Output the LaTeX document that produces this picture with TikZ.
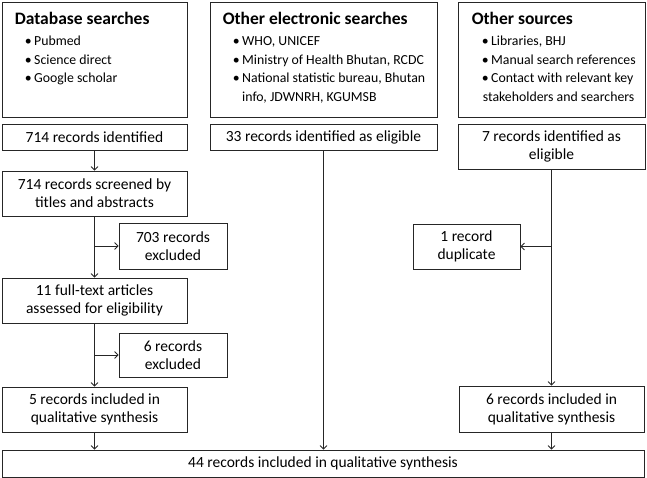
\documentclass[tikz,border=0pt]{standalone}
\usepackage{fontspec}
\setmainfont{Carlito}
\usetikzlibrary{positioning,arrows.meta,calc}
\newcommand{\bul}{\hspace*{10pt}\textbullet\hspace{2.5pt}}
\newcommand{\bulind}{\hspace*{10pt}\phantom{\textbullet}\hspace{2.5pt}}

\begin{document}
\begin{tikzpicture}[
  x=1pt, y=-1pt,
  font=\fontsize{15.5}{18}\selectfont,
  box/.style={draw=black!85, line width=0.8pt, inner sep=2pt, align=center},
  srcbox/.style={box, minimum height=115pt},
  srctext/.style={anchor=north west, align=left, inner sep=0pt,
    font=\fontsize{13.8}{18.5}\selectfont},
  arr/.style={-{Straight Barb[length=3.5pt,width=7pt]}, line width=0.8pt, black!85},
]
\useasboundingbox (0,0) rectangle (647,478);

% source boxes (top row)
\node[srcbox, minimum width=185pt] (db) at (94.5,59.5) {};
\node[srcbox, minimum width=227pt] (oe) at (323.5,59.5) {};
\node[srcbox, minimum width=187pt] (os) at (551.5,59.5) {};
\node[srctext] (dbtxt) at ([shift={(13pt,-10pt)}]db.north west)
  {{\bfseries\fontsize{17.5}{20}\selectfont Database searches}\\[3pt]
   \bul Pubmed\\ \bul Science direct\\ \bul Google scholar};
\node[srctext] (oetxt) at ([shift={(13pt,-10pt)}]oe.north west)
  {{\bfseries\fontsize{17.5}{20}\selectfont Other electronic searches}\\[3pt]
   \bul WHO, UNICEF\\ \bul Ministry of Health Bhutan, RCDC\\
   \bul National statistic bureau, Bhutan\\ \bulind info, JDWNRH, KGUMSB};
\node[srctext] (ostxt) at ([shift={(14pt,-10pt)}]os.north west)
  {{\bfseries\fontsize{17.5}{20}\selectfont Other sources}\\[3pt]
   \bul Libraries, BHJ\\ \bul Manual search references\\
   \bul Contact with relevant key\\ \hspace*{11pt}stakeholders and searchers};

% database branch
\node[box, minimum width=185pt, minimum height=26pt] (id714) at (94.5,137) {714 records identified};
\node[box, minimum width=185pt, minimum height=45pt] (scr) at (94.5,193.5)
  {714 records screened by\\ titles and abstracts};
\node[box, minimum width=108pt, minimum height=46pt] (ex703) at (173,246)
  {703 records\\ excluded};
\node[box, minimum width=185pt, minimum height=45pt] (full) at (94.5,300.5)
  {11 full-text articles\\ assessed for eligibility};
\node[box, minimum width=108pt, minimum height=44pt] (ex6) at (173,355)
  {6 records\\ excluded};
\node[box, minimum width=185pt, minimum height=45pt] (inc5) at (94.5,409.5)
  {5 records included in\\ qualitative synthesis};
\draw[arr] (id714) -- (scr);
\draw[arr] (scr) -- (full);
\draw[arr] (full) -- (inc5);
\draw[arr] (scr.south |- ex703.west) -- (ex703.west);
\draw[arr] (full.south |- ex6.west) -- (ex6.west);

% other electronic and other sources
\node[box, minimum width=227pt, minimum height=26pt] (id33) at (323.5,137)
  {33 records identified as eligible};
\node[box, minimum width=187pt, minimum height=45pt] (id7) at (551.5,146.5)
  {7 records identified as\\ eligible};
\node[box, minimum width=107pt, minimum height=45pt] (dup) at (466.5,246.5)
  {1 record\\ duplicate};
\node[box, minimum width=185pt, minimum height=46pt] (inc6) at (551.5,409)
  {6 records included in\\ qualitative synthesis};
\draw[arr] (id7) -- (inc6);
\draw[arr] (id7.south |- dup.east) -- (dup.east);

% final box
\node[box, minimum width=642pt, minimum height=27pt] (all) at (323,463.5)
  {44 records included in qualitative synthesis};
\draw[arr] (inc5) -- (inc5.south |- all.north);
\draw[arr] (id33) -- (id33.south |- all.north);
\draw[arr] (inc6) -- (inc6.south |- all.north);
\end{tikzpicture}
\end{document}
